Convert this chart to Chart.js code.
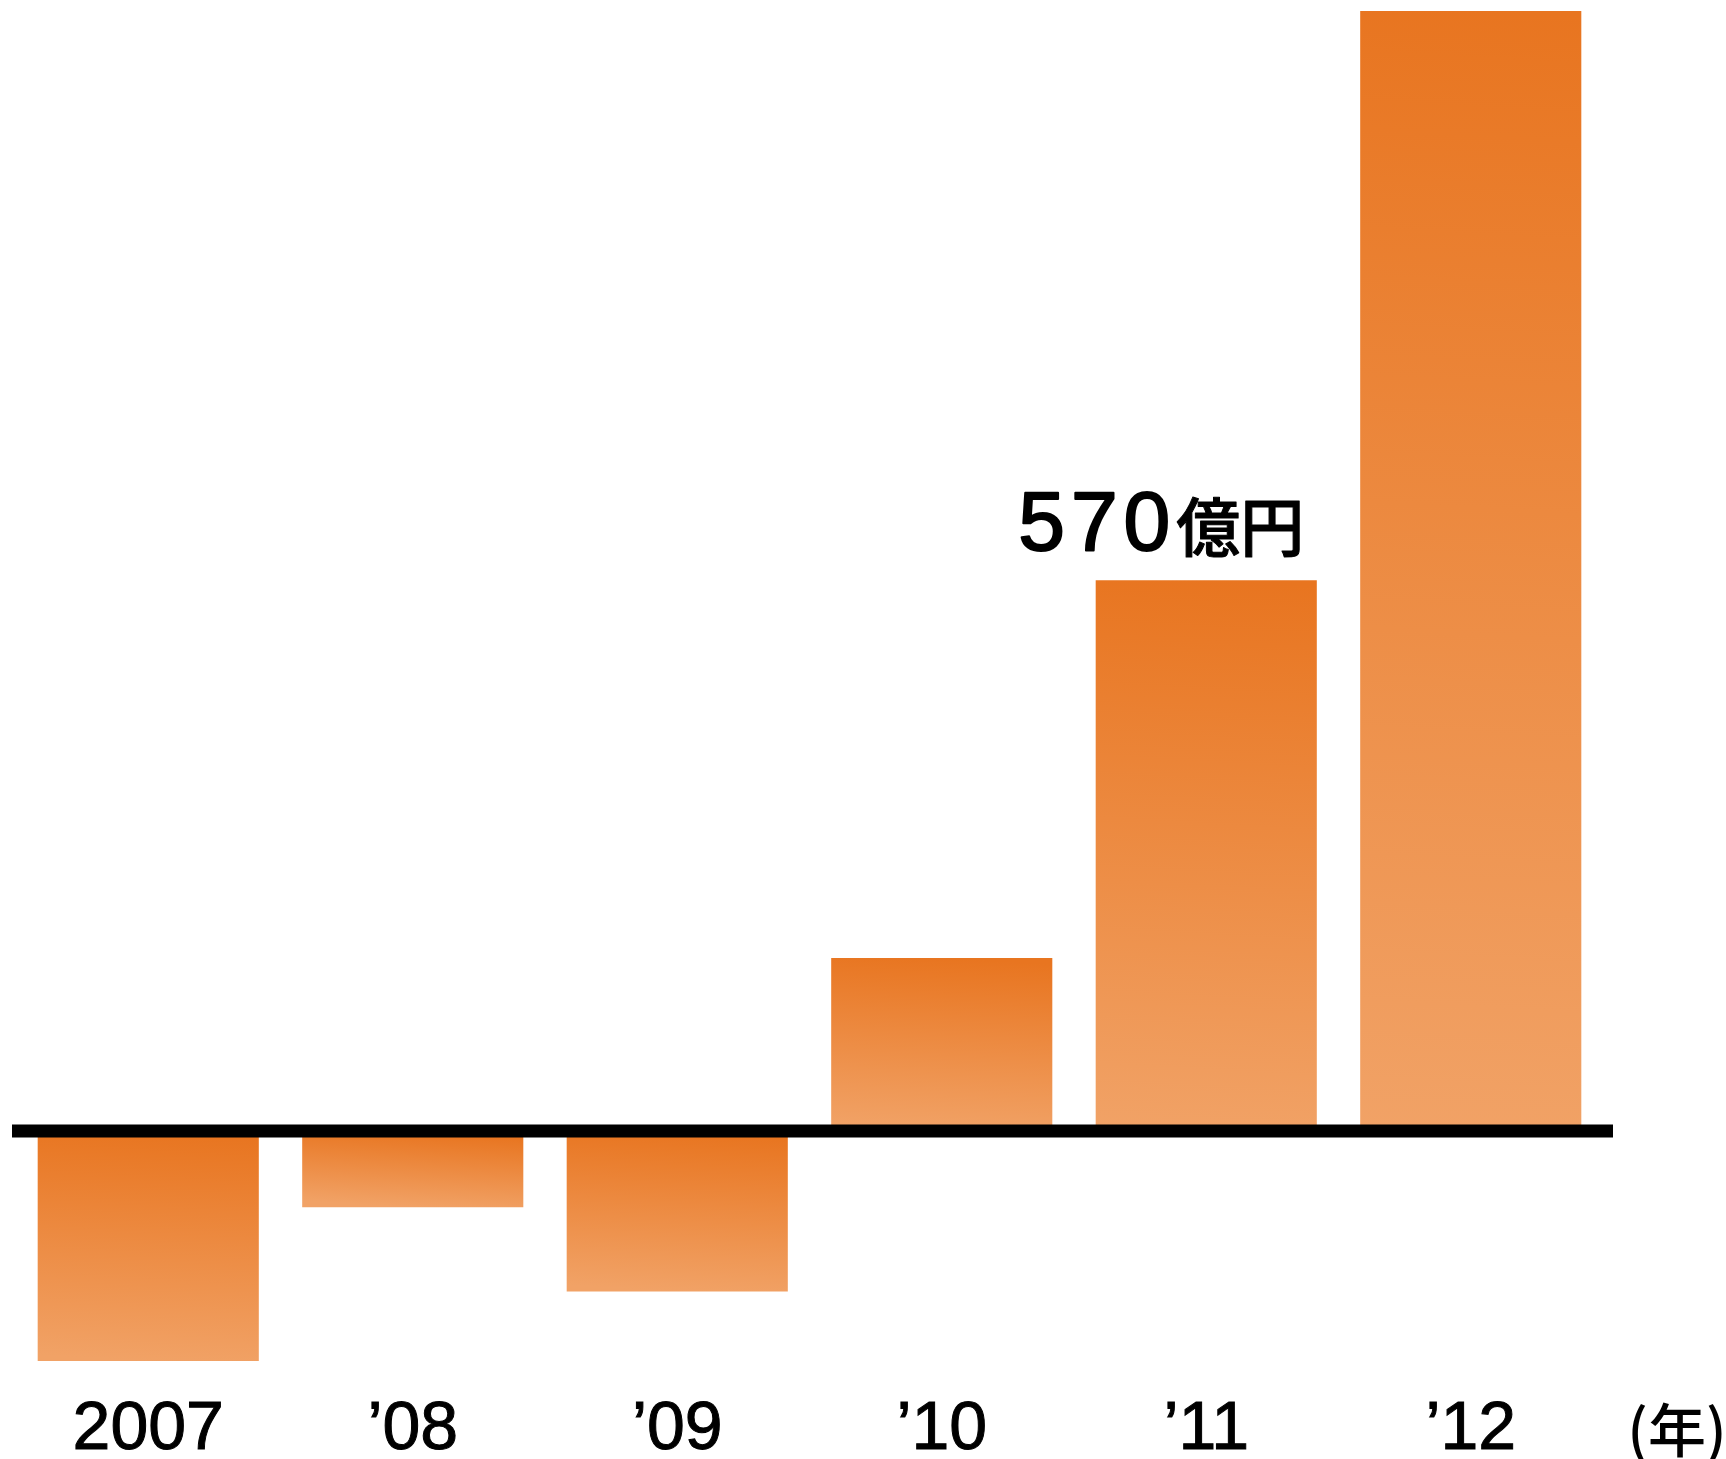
<!DOCTYPE html>
<html>
<head>
<meta charset="utf-8">
<script src="https://cdn.jsdelivr.net/npm/chart.js@4/dist/chart.umd.min.js"></script>
<style>
  html, body { margin: 0; padding: 0; background: #ffffff; }
  #wrap { width: 1726px; height: 1459px; }
</style>
</head>
<body>
<div id="wrap"><canvas id="c" width="1726" height="1459"></canvas></div>
<script>
// ---- data (億円) ----
const categories = ['2007', '’08', '’09', '’10', '’11', '’12'];
const profits = [-238, -79, -166, 179, 570, 1159];
const unitLabel = '(年)';
const calloutIndex = 4;
const calloutValue = '570';
const calloutUnit = '億円';

const LATIN = '"Liberation Sans", Arial, sans-serif';
const CJK = '"Noto Sans CJK JP", sans-serif';
const TICK_SIZE = 68;
const TICK_PAD = 28;

function barGradient(ctx) {
  const chart = ctx.chart;
  if (!chart.chartArea) return '#EC8434';
  const ys = chart.scales.y, xs = chart.scales.x;
  const v = ctx.raw;
  const top = ys.getPixelForValue(Math.max(v, 0));
  const bottom = ys.getPixelForValue(Math.min(v, 0));
  const cx = xs.getPixelForValue(ctx.dataIndex);
  const dx = 0.03 * (bottom - top);
  const g = chart.ctx.createLinearGradient(cx + dx, top, cx - dx, bottom);
  g.addColorStop(0, '#E87520');
  g.addColorStop(1, '#F1A266');
  return g;
}

const decorations = {
  id: 'decorations',
  afterDatasetsDraw(chart) {
    const c = chart.ctx;
    const ys = chart.scales.y;
    const area = chart.chartArea;
    const y0 = ys.getPixelForValue(0);
    // zero baseline
    c.save();
    c.strokeStyle = '#000000';
    c.lineWidth = 13;
    c.beginPath();
    c.moveTo(area.left - 4, y0);
    c.lineTo(area.right + 10, y0);
    c.stroke();

    // callout above the '11 bar
    const el = chart.getDatasetMeta(0).data[calloutIndex];
    c.fillStyle = '#000000';
    c.strokeStyle = '#000000';
    c.lineJoin = 'round';
    c.textBaseline = 'alphabetic';
    c.textAlign = 'left';
    const numFont = '84px ' + LATIN;
    const unitFont = '500 64px ' + CJK;
    c.font = numFont;
    c.letterSpacing = '6px';
    const wNum = c.measureText(calloutValue).width;
    c.letterSpacing = '0px';
    c.font = unitFont;
    const wUnit = c.measureText(calloutUnit).width;
    const total = wNum + wUnit;
    const startX = el.x - 45 - total / 2;
    const baseY = el.y - 30;
    c.font = numFont;
    c.letterSpacing = '6px';
    c.lineWidth = 2;
    c.fillText(calloutValue, startX, baseY);
    c.strokeText(calloutValue, startX, baseY);
    c.letterSpacing = '0px';
    c.font = unitFont;
    c.lineWidth = 1;
    c.fillText(calloutUnit, startX + wNum, baseY + 1);
    c.strokeText(calloutUnit, startX + wNum, baseY + 1);

    // unit label for x axis
    const xs = chart.scales.x;
    c.font = '500 58px ' + CJK;
    c.textAlign = 'center';
    c.textBaseline = 'middle';
    c.fillText(unitLabel, area.right + 74, xs.top + TICK_PAD + TICK_SIZE * 0.6);
    c.restore();
  }
};

new Chart(document.getElementById('c'), {
  type: 'bar',
  data: {
    labels: categories,
    datasets: [{
      data: profits,
      backgroundColor: barGradient,
      borderWidth: 0,
      barPercentage: 0.836,
      categoryPercentage: 1.0
    }]
  },
  options: {
    responsive: false,
    animation: false,
    events: [],
    layout: { padding: { left: 16, right: 123, top: 11, bottom: 0 } },
    plugins: {
      legend: { display: false },
      tooltip: { enabled: false }
    },
    scales: {
      x: {
        offset: true,
        afterFit(scale) { scale.height = 98; },
        grid: { display: false, drawTicks: false },
        border: { display: false },
        ticks: {
          color: '#000000',
          padding: TICK_PAD,
          font: { family: LATIN, size: TICK_SIZE },
          textStrokeColor: '#000000',
          textStrokeWidth: 1,
          maxRotation: 0,
          autoSkip: false
        }
      },
      y: {
        display: false,
        min: -238,
        max: 1159
      }
    }
  },
  plugins: [decorations]
});
</script>
</body>
</html>
